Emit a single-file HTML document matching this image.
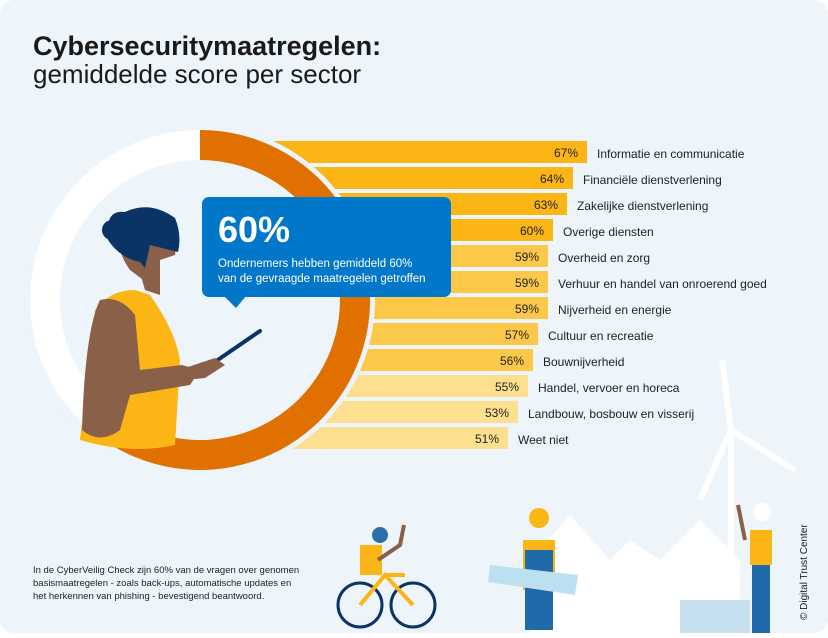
<!DOCTYPE html>
<html><head><meta charset="utf-8"><style>
html,body{margin:0;padding:0;background:#fff;}
body{width:828px;height:633px;overflow:hidden;font-family:"Liberation Sans",sans-serif;}
</style></head><body>
<svg width="828" height="633" viewBox="0 0 828 633" xmlns="http://www.w3.org/2000/svg" font-family="Liberation Sans, sans-serif">
<rect x="0" y="0" width="828" height="633" rx="14" fill="#edf4fa"/>
<text x="33" y="55" font-size="27" font-weight="bold" fill="#1a1a1a">Cybersecuritymaatregelen:</text>
<text x="33" y="83" font-size="26" fill="#1a1a1a">gemiddelde score per sector</text>
<g>
<rect x="200" y="141" width="387" height="22" fill="#fbb515"/>
<rect x="200" y="167" width="373" height="22" fill="#fbb515"/>
<rect x="200" y="193" width="367" height="22" fill="#fbb515"/>
<rect x="200" y="219" width="353" height="22" fill="#fbb515"/>
<rect x="200" y="245" width="348" height="22" fill="#fcc84a"/>
<rect x="200" y="271" width="348" height="22" fill="#fcc84a"/>
<rect x="200" y="297" width="348" height="22" fill="#fcc84a"/>
<rect x="200" y="323" width="338" height="22" fill="#fcc84a"/>
<rect x="200" y="349" width="333" height="22" fill="#fcc84a"/>
<rect x="200" y="375" width="328" height="22" fill="#fde08f"/>
<rect x="200" y="401" width="318" height="22" fill="#fde08f"/>
<rect x="200" y="427" width="308" height="22" fill="#fde08f"/>
</g>
<g font-size="12" fill="#222" text-anchor="end">
<text x="578" y="157">67%</text><text x="564" y="183">64%</text><text x="558" y="209">63%</text><text x="544" y="235">60%</text>
<text x="539" y="261">59%</text><text x="539" y="287">59%</text><text x="539" y="313">59%</text><text x="529" y="339">57%</text>
<text x="524" y="365">56%</text><text x="519" y="391">55%</text><text x="509" y="417">53%</text><text x="499" y="443">51%</text>
</g>
<g font-size="12" fill="#222">
<text x="597" y="158">Informatie en communicatie</text>
<text x="583" y="184">Financiële dienstverlening</text>
<text x="577" y="210">Zakelijke dienstverlening</text>
<text x="563" y="236">Overige diensten</text>
<text x="558" y="262">Overheid en zorg</text>
<text x="558" y="288">Verhuur en handel van onroerend goed</text>
<text x="558" y="314">Nijverheid en energie</text>
<text x="548" y="340">Cultuur en recreatie</text>
<text x="543" y="366">Bouwnijverheid</text>
<text x="538" y="392">Handel, vervoer en horeca</text>
<text x="528" y="418">Landbouw, bosbouw en visserij</text>
<text x="518" y="444">Weet niet</text>
</g>
<circle cx="200" cy="300" r="175" fill="#edf4fa"/>
<circle cx="200" cy="300" r="155" fill="none" stroke="#fff" stroke-width="30"/>
<path d="M200,130 A170,170 0 1 1 100.1,437.5 L117.7,413.3 A140,140 0 1 0 200,160 Z" fill="#e07000"/>
<path d="M80,440 L95,310 Q110,290 135,290 L150,295 Q175,330 180,360 L175,445 Q130,455 80,440Z" fill="#fbb515"/>
<path d="M100,300 Q85,330 82,430 Q100,445 120,430 L130,395 L190,385 L200,370 L182,365 L140,370 L135,315 Q120,295 100,300Z" fill="#8b6049"/>
<path d="M135,255 L145,290 L160,295 L160,260Z" fill="#8b6049"/>
<path d="M120,225 Q140,205 165,218 Q178,235 175,255 L160,260 Q150,275 150,285 L130,270 Q115,250 120,225Z" fill="#8b6049"/>
<path d="M108,225 Q110,210 125,212 Q150,200 175,218 Q182,235 178,252 L150,245 L145,268 L140,262 Q120,258 108,240Z" fill="#0b3466"/>
<circle cx="112" cy="230" r="10" fill="#0b3466"/>
<line x1="206" y1="368" x2="260" y2="331" stroke="#0b3466" stroke-width="4" stroke-linecap="round"/>
<path d="M185,368 L215,358 L225,365 L205,378 L185,380Z" fill="#8b6049"/>
<rect x="202" y="197" width="249" height="100" rx="7" fill="#0077c8"/>
<path d="M224,296 L236,308 L246,296Z" fill="#0077c8"/>
<text x="218" y="242" font-size="36" font-weight="bold" fill="#fff">60%</text>
<text x="218" y="267" font-size="11.5" fill="#fff">Ondernemers hebben gemiddeld 60%</text>
<text x="218" y="282" font-size="11.5" fill="#fff">van de gevraagde maatregelen getroffen</text>
<g font-size="9.5" fill="#222">
<text x="33" y="573">In de CyberVeilig Check zijn 60% van de vragen over genomen</text>
<text x="33" y="586">basismaatregelen - zoals back-ups, automatische updates en</text>
<text x="33" y="599">het herkennen van phishing - bevestigend beantwoord.</text>
</g>
<path d="M530,633 L530,560 L570,515 L610,560 L630,540 L660,560 L700,520 L740,560 L740,633Z" fill="#fff"/>
<rect x="728" y="430" width="6" height="203" fill="#fff"/>
<path d="M731,430 L700,500 M731,430 L795,470 M731,430 L722,360" stroke="#fff" stroke-width="6"/>
<rect x="680" y="600" width="70" height="33" fill="#c6e0f0"/>
<circle cx="360" cy="605" r="22" fill="none" stroke="#0b3466" stroke-width="3"/>
<circle cx="413" cy="605" r="22" fill="none" stroke="#0b3466" stroke-width="3"/>
<path d="M360,605 L385,575 L413,605 M385,575 L405,575" stroke="#fbb515" stroke-width="4" fill="none"/>
<rect x="360" y="545" width="22" height="30" fill="#fbb515"/>
<circle cx="380" cy="535" r="8" fill="#2a6fa8"/>
<path d="M378,560 L400,545 L404,525" stroke="#8b6049" stroke-width="4" fill="none"/>
<rect x="523" y="540" width="32" height="50" fill="#fbb515"/>
<rect x="525" y="550" width="28" height="80" fill="#1f6aa8"/>
<circle cx="539" cy="518" r="10" fill="#fbb515"/>
<path d="M490,565 L578,575 L575,595 L488,582Z" fill="#bde0f0"/>
<rect x="750" y="530" width="22" height="35" fill="#fbb515"/>
<rect x="752" y="565" width="18" height="68" fill="#1f6aa8"/>
<circle cx="762" cy="512" r="9" fill="#fff"/>
<path d="M745,540 L738,505" stroke="#8b6049" stroke-width="4"/>
<text x="0" y="0" font-size="10" fill="#222" transform="translate(807,620) rotate(-90)">© Digital Trust Center</text>
</svg>
</body></html>
